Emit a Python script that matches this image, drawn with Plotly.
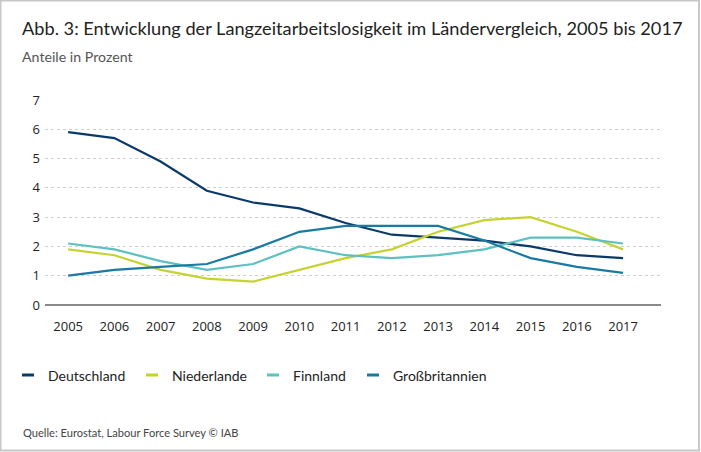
import plotly.graph_objects as go

years = [2005, 2006, 2007, 2008, 2009, 2010, 2011, 2012, 2013, 2014, 2015, 2016, 2017]
deutschland = [5.9, 5.7, 4.9, 3.9, 3.5, 3.3, 2.8, 2.4, 2.3, 2.2, 2.0, 1.7, 1.6]
niederlande = [1.9, 1.7, 1.2, 0.9, 0.8, 1.2, 1.6, 1.9, 2.5, 2.9, 3.0, 2.5, 1.9]
finnland = [2.1, 1.9, 1.5, 1.2, 1.4, 2.0, 1.7, 1.6, 1.7, 1.9, 2.3, 2.3, 2.1]
grossbritannien = [1.0, 1.2, 1.3, 1.4, 1.9, 2.5, 2.7, 2.7, 2.7, 2.2, 1.6, 1.3, 1.1]

series_names = ["Deutschland", "Niederlande", "Finnland", "Großbritannien"]
series_values = [deutschland, niederlande, finnland, grossbritannien]
colors = ["#0b3a6a", "#c6d32f", "#5ec0c0", "#1a7aa2"]
y_ticks = [0, 1, 2, 3, 4, 5, 6, 7]

W, H = 701, 452
ML, MR, MT, MB = 45, 40, 100, 147
PW, PH = W - ML - MR, H - MT - MB

def px(xp):
    return (xp - ML) / PW

def py(yp):
    return (H - MB - yp) / PH

fig = go.Figure()
for name, vals, col in zip(series_names, series_values, colors):
    fig.add_trace(go.Scatter(x=years, y=vals, mode="lines", name=name,
                             line=dict(color=col, width=2.2), showlegend=False,
                             cliponaxis=False))

shapes = []
annotations = []
# custom legend
leg_x = [22, 146, 267, 367]
for name, col, lx in zip(series_names, colors, leg_x):
    shapes.append(dict(type="line", xref="paper", yref="paper",
                       x0=px(lx), x1=px(lx + 12), y0=py(375), y1=py(375),
                       line=dict(color=col, width=3)))
    annotations.append(dict(text=name, xref="paper", yref="paper",
                            x=px(lx + 24), y=py(375), xanchor="left", yanchor="middle",
                            showarrow=False,
                            font=dict(family="Lato", size=14, color="#222")))

# title, subtitle, source
annotations.append(dict(text="Abb. 3: Entwicklung der Langzeitarbeitslosigkeit im Ländervergleich, 2005 bis 2017",
                        xref="paper", yref="paper", x=px(20), y=py(28),
                        xanchor="left", yanchor="middle", showarrow=False,
                        font=dict(family="Lato", size=18.2, color="#222")))
annotations.append(dict(text="Anteile in Prozent", xref="paper", yref="paper",
                        x=px(20), y=py(56), xanchor="left", yanchor="middle",
                        showarrow=False, font=dict(family="Lato", size=14.2, color="#555")))
annotations.append(dict(text="Quelle: Eurostat, Labour Force Survey © IAB", xref="paper", yref="paper",
                        x=px(21), y=py(432), xanchor="left", yanchor="middle",
                        showarrow=False, font=dict(family="Lato", size=11.1, color="#444")))

# frame
shapes.append(dict(type="rect", xref="paper", yref="paper",
                   x0=px(0.5), x1=px(W - 2), y0=py(0.5), y1=py(H - 1.5),
                   line=dict(color="#c8c8c8", width=2), layer="below"))

fig.update_layout(
    width=W, height=H,
    margin=dict(l=ML, r=MR, t=MT, b=MB),
    paper_bgcolor="white", plot_bgcolor="white",
    shapes=shapes, annotations=annotations,
    xaxis=dict(range=[2004.5, 2017.82], tickmode="array", tickvals=years,
               ticktext=[str(y) for y in years], showgrid=False, zeroline=False,
               showline=False, ticks="", ticklabelstandoff=12,
               tickfont=dict(family="Open Sans", size=13, color="#222")),
    yaxis=dict(range=[0, 7], tickmode="array", tickvals=y_ticks,
               ticktext=[str(v) for v in y_ticks], showgrid=True,
               gridcolor="#cfcfcf", griddash="dot", gridwidth=1,
               zeroline=True, zerolinecolor="#8a8a8a", zerolinewidth=2,
               showline=False, ticks="", ticklabelstandoff=4,
               tickfont=dict(family="Open Sans", size=13, color="#222")),
)

fig.write_html("out.html", config={"displayModeBar": False},
               post_script="document.body.style.margin='0';document.body.style.overflow='hidden';")
